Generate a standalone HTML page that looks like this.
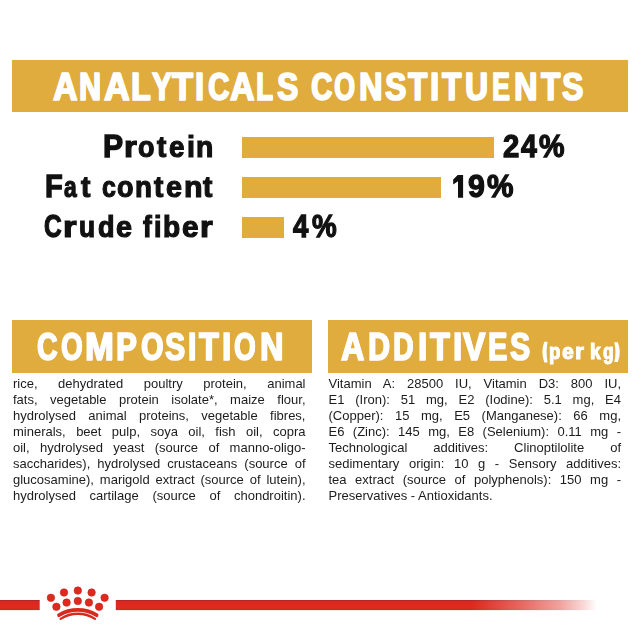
<!DOCTYPE html>
<html><head><meta charset="utf-8">
<style>
html,body{margin:0;padding:0;background:#fff;width:640px;height:640px;overflow:hidden;position:relative;font-family:"Liberation Sans",sans-serif;}
.bar{position:absolute;background:#e0ac3e;}
.t{position:absolute;white-space:pre;line-height:1;transform-origin:0 0;}
.h{color:#fff;font-weight:bold;-webkit-text-stroke:1px #fff;}
.k{color:#111;font-weight:bold;-webkit-text-stroke:0.6px #111;}
.body{position:absolute;font-size:13px;color:#1c1c1c;line-height:16.07px;}
.body div{text-align:justify;text-align-last:justify;white-space:nowrap;height:16.07px;}
.body div.l{text-align-last:left;}
</style></head><body>
<div id="wrap" style="position:absolute;left:0;top:0;width:640px;height:640px;filter:blur(0.3px);">
<!-- top header -->
<div class="bar" style="left:12px;top:60px;width:616px;height:52px;"></div>
<!--H1-->
<span class="t h" style="left:52.95px;top:67px;font-size:39px;transform:scaleX(0.8631);-webkit-text-stroke:1.6px #fff;text-shadow:1.2px 0 0 #fff;">A</span>
<span class="t h" style="left:79.20px;top:67px;font-size:39px;transform:scaleX(0.7735);-webkit-text-stroke:1.6px #fff;text-shadow:1.2px 0 0 #fff;">N</span>
<span class="t h" style="left:103.59px;top:67px;font-size:39px;transform:scaleX(0.9063);-webkit-text-stroke:1.6px #fff;text-shadow:1.2px 0 0 #fff;">A</span>
<span class="t h" style="left:131.01px;top:67px;font-size:39px;transform:scaleX(0.8219);-webkit-text-stroke:1.6px #fff;text-shadow:1.2px 0 0 #fff;">L</span>
<span class="t h" style="left:152.00px;top:67px;font-size:39px;transform:scaleX(0.7486);-webkit-text-stroke:1.6px #fff;text-shadow:1.2px 0 0 #fff;">Y</span>
<span class="t h" style="left:171.57px;top:67px;font-size:39px;transform:scaleX(0.8732);-webkit-text-stroke:1.6px #fff;text-shadow:1.2px 0 0 #fff;">T</span>
<span class="t h" style="left:195.43px;top:67px;font-size:39px;transform:scaleX(0.8138);-webkit-text-stroke:1.6px #fff;text-shadow:1.2px 0 0 #fff;">I</span>
<span class="t h" style="left:207.50px;top:67px;font-size:39px;transform:scaleX(0.7527);-webkit-text-stroke:1.6px #fff;text-shadow:1.2px 0 0 #fff;">C</span>
<span class="t h" style="left:229.85px;top:67px;font-size:39px;transform:scaleX(0.8631);-webkit-text-stroke:1.6px #fff;text-shadow:1.2px 0 0 #fff;">A</span>
<span class="t h" style="left:256.21px;top:67px;font-size:39px;transform:scaleX(0.7123);-webkit-text-stroke:1.6px #fff;text-shadow:1.2px 0 0 #fff;">L</span>
<span class="t h" style="left:276.64px;top:67px;font-size:39px;transform:scaleX(0.8102);-webkit-text-stroke:1.6px #fff;text-shadow:1.2px 0 0 #fff;">S</span>
<span class="t h" style="left:310.65px;top:67px;font-size:39px;transform:scaleX(0.7509);-webkit-text-stroke:1.6px #fff;text-shadow:1.2px 0 0 #fff;">C</span>
<span class="t h" style="left:333.85px;top:67px;font-size:39px;transform:scaleX(0.6890);-webkit-text-stroke:1.6px #fff;text-shadow:1.2px 0 0 #fff;">O</span>
<span class="t h" style="left:358.51px;top:67px;font-size:39px;transform:scaleX(0.8260);-webkit-text-stroke:1.6px #fff;text-shadow:1.2px 0 0 #fff;">N</span>
<span class="t h" style="left:384.74px;top:67px;font-size:39px;transform:scaleX(0.8121);-webkit-text-stroke:1.6px #fff;text-shadow:1.2px 0 0 #fff;">S</span>
<span class="t h" style="left:408.39px;top:67px;font-size:39px;transform:scaleX(0.8014);-webkit-text-stroke:1.6px #fff;text-shadow:1.2px 0 0 #fff;">T</span>
<span class="t h" style="left:430.43px;top:67px;font-size:39px;transform:scaleX(0.8138);-webkit-text-stroke:1.6px #fff;text-shadow:1.2px 0 0 #fff;">I</span>
<span class="t h" style="left:441.54px;top:67px;font-size:39px;transform:scaleX(0.8053);-webkit-text-stroke:1.6px #fff;text-shadow:1.2px 0 0 #fff;">T</span>
<span class="t h" style="left:465.00px;top:67px;font-size:39px;transform:scaleX(0.8098);-webkit-text-stroke:1.6px #fff;text-shadow:1.2px 0 0 #fff;">U</span>
<span class="t h" style="left:491.86px;top:67px;font-size:39px;transform:scaleX(0.6848);-webkit-text-stroke:1.6px #fff;text-shadow:1.2px 0 0 #fff;">E</span>
<span class="t h" style="left:513.51px;top:67px;font-size:39px;transform:scaleX(0.8260);-webkit-text-stroke:1.6px #fff;text-shadow:1.2px 0 0 #fff;">N</span>
<span class="t h" style="left:540.89px;top:67px;font-size:39px;transform:scaleX(0.8014);-webkit-text-stroke:1.6px #fff;text-shadow:1.2px 0 0 #fff;">T</span>
<span class="t h" style="left:562.24px;top:67px;font-size:39px;transform:scaleX(0.8121);-webkit-text-stroke:1.6px #fff;text-shadow:1.2px 0 0 #fff;">S</span>
<!--/H1-->

<!-- labels -->
<!--L1-->
<span class="t k" style="left:102.79px;top:130px;font-size:32px;transform:scaleX(0.9428);-webkit-text-stroke:1.3px #111;">P</span>
<span class="t k" style="left:123.70px;top:130px;font-size:32px;transform-origin:0 27px;transform:scale(1.0305,0.935);-webkit-text-stroke:1.3px #111;">r</span>
<span class="t k" style="left:138.49px;top:130px;font-size:32px;transform-origin:0 27px;transform:scale(0.8448,0.935);-webkit-text-stroke:1.3px #111;">o</span>
<span class="t k" style="left:156.73px;top:130px;font-size:32px;transform-origin:0 27px;transform:scale(0.8770,0.935);-webkit-text-stroke:1.3px #111;">t</span>
<span class="t k" style="left:168.98px;top:130px;font-size:32px;transform-origin:0 27px;transform:scale(0.8655,0.935);-webkit-text-stroke:1.3px #111;">e</span>
<span class="t k" style="left:186.88px;top:130px;font-size:32px;transform-origin:0 27px;transform:scale(0.8962,0.935);-webkit-text-stroke:1.3px #111;">i</span>
<span class="t k" style="left:196.31px;top:130px;font-size:32px;transform-origin:0 27px;transform:scale(0.8834,0.935);-webkit-text-stroke:1.3px #111;">n</span>
<!--/L1-->
<!--L2-->
<span class="t k" style="left:44.75px;top:170px;font-size:32px;transform:scaleX(0.9068);-webkit-text-stroke:1.3px #111;">F</span>
<span class="t k" style="left:64.19px;top:170px;font-size:32px;transform-origin:0 27px;transform:scale(0.7134,0.935);-webkit-text-stroke:1.3px #111;">a</span>
<span class="t k" style="left:81.48px;top:170px;font-size:32px;transform-origin:0 27px;transform:scale(0.8814,0.935);-webkit-text-stroke:1.3px #111;">t</span>
<span class="t k" style="left:101.53px;top:170px;font-size:32px;transform-origin:0 27px;transform:scale(0.7777,0.935);-webkit-text-stroke:1.3px #111;">c</span>
<span class="t k" style="left:116.99px;top:170px;font-size:32px;transform-origin:0 27px;transform:scale(0.8448,0.935);-webkit-text-stroke:1.3px #111;">o</span>
<span class="t k" style="left:135.43px;top:170px;font-size:32px;transform-origin:0 27px;transform:scale(0.8685,0.935);-webkit-text-stroke:1.3px #111;">n</span>
<span class="t k" style="left:154.33px;top:170px;font-size:32px;transform-origin:0 27px;transform:scale(0.8770,0.935);-webkit-text-stroke:1.3px #111;">t</span>
<span class="t k" style="left:166.46px;top:170px;font-size:32px;transform-origin:0 27px;transform:scale(0.8954,0.935);-webkit-text-stroke:1.3px #111;">e</span>
<span class="t k" style="left:184.21px;top:170px;font-size:32px;transform-origin:0 27px;transform:scale(0.9491,0.935);-webkit-text-stroke:1.3px #111;">n</span>
<span class="t k" style="left:203.33px;top:170px;font-size:32px;transform-origin:0 27px;transform:scale(0.8770,0.935);-webkit-text-stroke:1.3px #111;">t</span>
<!--/L2-->
<!--L3-->
<span class="t k" style="left:43.59px;top:210px;font-size:32px;transform:scaleX(0.7650);-webkit-text-stroke:1.3px #111;">C</span>
<span class="t k" style="left:63.10px;top:210px;font-size:32px;transform-origin:0 27px;transform:scale(1.0933,0.935);-webkit-text-stroke:1.3px #111;">r</span>
<span class="t k" style="left:79.20px;top:210px;font-size:32px;transform-origin:0 27px;transform:scale(0.8237,0.935);-webkit-text-stroke:1.3px #111;">u</span>
<span class="t k" style="left:97.94px;top:210px;font-size:32px;transform-origin:0 27px;transform:scale(0.8436,0.935);-webkit-text-stroke:1.3px #111;">d</span>
<span class="t k" style="left:116.06px;top:210px;font-size:32px;transform-origin:0 27px;transform:scale(0.8954,0.935);-webkit-text-stroke:1.3px #111;">e</span>
<span class="t k" style="left:142.58px;top:210px;font-size:32px;transform-origin:0 27px;transform:scale(0.8194,0.935);-webkit-text-stroke:1.3px #111;">f</span>
<span class="t k" style="left:153.96px;top:210px;font-size:32px;transform-origin:0 27px;transform:scale(0.8435,0.935);-webkit-text-stroke:1.3px #111;">i</span>
<span class="t k" style="left:163.32px;top:210px;font-size:32px;transform-origin:0 27px;transform:scale(0.8780,0.935);-webkit-text-stroke:1.3px #111;">b</span>
<span class="t k" style="left:182.44px;top:210px;font-size:32px;transform-origin:0 27px;transform:scale(0.9252,0.935);-webkit-text-stroke:1.3px #111;">e</span>
<span class="t k" style="left:200.01px;top:210px;font-size:32px;transform-origin:0 27px;transform:scale(1.0216,0.935);-webkit-text-stroke:1.3px #111;">r</span>
<!--/L3-->

<div class="bar" style="left:241.5px;top:137px;width:252.5px;height:20.7px;"></div>
<div class="bar" style="left:241.5px;top:177px;width:199.8px;height:20.7px;"></div>
<div class="bar" style="left:241.5px;top:217px;width:42.3px;height:20.7px;"></div>

<!--P1-->
<span class="t k" style="left:502.88px;top:130px;font-size:32px;transform:scaleX(0.9158);-webkit-text-stroke:1.3px #111;">2</span>
<span class="t k" style="left:520.95px;top:130px;font-size:32px;transform:scaleX(0.8893);-webkit-text-stroke:1.3px #111;">4</span>
<span class="t k" style="left:538.67px;top:130px;font-size:32px;transform:scaleX(0.8964);-webkit-text-stroke:1.3px #111;">%</span>
<!--/P1-->
<!--P2-->
<span class="t k" style="left:467.57px;top:170px;font-size:32px;transform:scaleX(0.9464);-webkit-text-stroke:1.3px #111;">9</span>
<span class="t k" style="left:486.56px;top:170px;font-size:32px;transform:scaleX(0.9320);-webkit-text-stroke:1.3px #111;">%</span>
<svg style="position:absolute;left:0;top:0" width="640" height="640" viewBox="0 0 640 640"><path fill="#111" d="M457.7 175 L463.1 175 L463.1 197.8 L458 197.8 L458 181.2 L453.2 184.4 L453.2 179.6 Z"/></svg>
<!--/P2-->
<!--P3-->
<span class="t k" style="left:292.64px;top:210px;font-size:32px;transform:scaleX(0.8622);-webkit-text-stroke:1.3px #111;">4</span>
<span class="t k" style="left:311.57px;top:210px;font-size:32px;transform:scaleX(0.8679);-webkit-text-stroke:1.3px #111;">%</span>
<!--/P3-->

<!-- section headers -->
<div class="bar" style="left:12px;top:320px;width:300px;height:52.6px;"></div>
<div class="bar" style="left:328px;top:320px;width:300px;height:52.6px;"></div>
<!--H2-->
<span class="t h" style="left:36.92px;top:327px;font-size:39px;transform:scaleX(0.7280);-webkit-text-stroke:1.6px #fff;text-shadow:1.2px 0 0 #fff;">C</span>
<span class="t h" style="left:60.68px;top:327px;font-size:39px;transform:scaleX(0.7107);-webkit-text-stroke:1.6px #fff;text-shadow:1.2px 0 0 #fff;">O</span>
<span class="t h" style="left:84.66px;top:327px;font-size:39px;transform:scaleX(0.8813);-webkit-text-stroke:1.6px #fff;text-shadow:1.2px 0 0 #fff;">M</span>
<span class="t h" style="left:116.07px;top:327px;font-size:39px;transform:scaleX(0.7921);-webkit-text-stroke:1.6px #fff;text-shadow:1.2px 0 0 #fff;">P</span>
<span class="t h" style="left:140.67px;top:327px;font-size:39px;transform:scaleX(0.7308);-webkit-text-stroke:1.6px #fff;text-shadow:1.2px 0 0 #fff;">O</span>
<span class="t h" style="left:164.75px;top:327px;font-size:39px;transform:scaleX(0.7644);-webkit-text-stroke:1.6px #fff;text-shadow:1.2px 0 0 #fff;">S</span>
<span class="t h" style="left:188.07px;top:327px;font-size:39px;transform:scaleX(0.7365);-webkit-text-stroke:1.6px #fff;text-shadow:1.2px 0 0 #fff;">I</span>
<span class="t h" style="left:199.05px;top:327px;font-size:39px;transform:scaleX(0.8247);-webkit-text-stroke:1.6px #fff;text-shadow:1.2px 0 0 #fff;">T</span>
<span class="t h" style="left:221.62px;top:327px;font-size:39px;transform:scaleX(0.8197);-webkit-text-stroke:1.6px #fff;text-shadow:1.2px 0 0 #fff;">I</span>
<span class="t h" style="left:234.43px;top:327px;font-size:39px;transform:scaleX(0.7107);-webkit-text-stroke:1.6px #fff;text-shadow:1.2px 0 0 #fff;">O</span>
<span class="t h" style="left:259.76px;top:327px;font-size:39px;transform:scaleX(0.8260);-webkit-text-stroke:1.6px #fff;text-shadow:1.2px 0 0 #fff;">N</span>
<!--/H2-->
<!--H3-->
<span class="t h" style="left:341.46px;top:327px;font-size:39px;transform:scaleX(0.8217);-webkit-text-stroke:1.6px #fff;text-shadow:1.2px 0 0 #fff;">A</span>
<span class="t h" style="left:367.70px;top:327px;font-size:39px;transform:scaleX(0.7729);-webkit-text-stroke:1.6px #fff;text-shadow:1.2px 0 0 #fff;">D</span>
<span class="t h" style="left:392.79px;top:327px;font-size:39px;transform:scaleX(0.7261);-webkit-text-stroke:1.6px #fff;text-shadow:1.2px 0 0 #fff;">D</span>
<span class="t h" style="left:417.62px;top:327px;font-size:39px;transform:scaleX(0.8197);-webkit-text-stroke:1.6px #fff;text-shadow:1.2px 0 0 #fff;">I</span>
<span class="t h" style="left:430.05px;top:327px;font-size:39px;transform:scaleX(0.8247);-webkit-text-stroke:1.6px #fff;text-shadow:1.2px 0 0 #fff;">T</span>
<span class="t h" style="left:452.62px;top:327px;font-size:39px;transform:scaleX(0.8197);-webkit-text-stroke:1.6px #fff;text-shadow:1.2px 0 0 #fff;">I</span>
<span class="t h" style="left:462.95px;top:327px;font-size:39px;transform:scaleX(0.8522);-webkit-text-stroke:1.6px #fff;text-shadow:1.2px 0 0 #fff;">V</span>
<span class="t h" style="left:487.77px;top:327px;font-size:39px;transform:scaleX(0.7354);-webkit-text-stroke:1.6px #fff;text-shadow:1.2px 0 0 #fff;">E</span>
<span class="t h" style="left:509.50px;top:327px;font-size:39px;transform:scaleX(0.7644);-webkit-text-stroke:1.6px #fff;text-shadow:1.2px 0 0 #fff;">S</span>
<!--/H3-->
<!--H4-->
<span class="t h" style="left:549.20px;top:341px;font-size:22px;transform:scaleX(0.8422);text-shadow:0.5px 0 0 #fff;">p</span>
<span class="t h" style="left:561.86px;top:341px;font-size:22px;transform:scaleX(0.9527);text-shadow:0.5px 0 0 #fff;">e</span>
<span class="t h" style="left:574.61px;top:341px;font-size:22px;transform:scaleX(1.0389);text-shadow:0.5px 0 0 #fff;">r</span>
<span class="t h" style="left:589.80px;top:341px;font-size:22px;transform:scaleX(0.8674);text-shadow:0.5px 0 0 #fff;">k</span>
<span class="t h" style="left:602.59px;top:341px;font-size:22px;transform:scaleX(0.7720);text-shadow:0.5px 0 0 #fff;">g</span>
<svg style="position:absolute;left:0;top:0" width="640" height="640" viewBox="0 0 640 640"><g fill="#fff"><path d="M544.3 341.7 L547.6 341.7 Q545.6 352 547.6 362.5 L544.3 362.5 Q540.5 352 544.3 341.7 Z"/><path d="M614.3 342.2 L617.8 342.2 Q621.8 352.1 617.8 362 L614.3 362 Q616.7 352.1 614.3 342.2 Z"/></g></svg>
<!--/H4-->

<div class="body" style="left:13px;top:376px;width:292.5px;">
<div>rice, dehydrated poultry protein, animal</div>
<div>fats, vegetable protein isolate*, maize flour,</div>
<div>hydrolysed animal proteins, vegetable fibres,</div>
<div>minerals, beet pulp, soya oil, fish oil, copra</div>
<div>oil, hydrolysed yeast (source of manno-oligo-</div>
<div>saccharides), hydrolysed crustaceans (source of</div>
<div>glucosamine), marigold extract (source of lutein),</div>
<div>hydrolysed cartilage (source of chondroitin).</div>
</div>

<div class="body" style="left:328.5px;top:376px;width:292.5px;">
<div>Vitamin A: 28500 IU, Vitamin D3: 800 IU,</div>
<div>E1 (Iron): 51 mg, E2 (Iodine): 5.1 mg, E4</div>
<div>(Copper): 15 mg, E5 (Manganese): 66 mg,</div>
<div>E6 (Zinc): 145 mg, E8 (Selenium): 0.11 mg -</div>
<div>Technological additives: Clinoptilolite of</div>
<div>sedimentary origin: 10 g - Sensory additives:</div>
<div>tea extract (source of polyphenols): 150 mg -</div>
<div class="l">Preservatives - Antioxidants.</div>
</div>

<!-- bottom red line + crown -->
<svg style="position:absolute;left:0;top:0" width="640" height="640" viewBox="0 0 640 640">
<defs>
<linearGradient id="fade" x1="115.8" x2="597" y1="0" y2="0" gradientUnits="userSpaceOnUse">
<stop offset="0" stop-color="#fff"/><stop offset="0.74" stop-color="#fff"/>
<stop offset="0.79" stop-color="#fff" stop-opacity="0.86"/>
<stop offset="0.841" stop-color="#fff" stop-opacity="0.71"/>
<stop offset="0.922" stop-color="#fff" stop-opacity="0.44"/>
<stop offset="0.972" stop-color="#fff" stop-opacity="0.18"/>
<stop offset="1" stop-color="#fff" stop-opacity="0"/></linearGradient>
<mask id="m" maskUnits="userSpaceOnUse" x="0" y="590" width="640" height="30"><rect x="0" y="590" width="640" height="30" fill="url(#fade)"/></mask>
<linearGradient id="vg" x1="0" x2="0" y1="600" y2="610.3" gradientUnits="userSpaceOnUse">
<stop offset="0" stop-color="#b82424"/><stop offset="0.1" stop-color="#bf2626"/><stop offset="0.17" stop-color="#d42d25"/><stop offset="0.3" stop-color="#de281e"/>
<stop offset="0.8" stop-color="#df2a20"/><stop offset="0.88" stop-color="#bd2a22"/><stop offset="0.97" stop-color="#c43a32"/><stop offset="1" stop-color="#e8a0a0"/></linearGradient>
</defs>
<rect x="0" y="600" width="39.7" height="10.2" fill="url(#vg)"/>
<g mask="url(#m)"><rect x="115.8" y="600" width="481.2" height="10.2" fill="url(#vg)"/></g>
<g fill="#dc2a1f" stroke="#c42420" stroke-width="0.6">
<circle cx="50.9" cy="597.8" r="3.75"/>
<circle cx="104.6" cy="597.8" r="3.75"/>
<circle cx="64.0" cy="592.5" r="3.75"/>
<circle cx="77.8" cy="590.6" r="3.75"/>
<circle cx="91.6" cy="592.5" r="3.75"/>
<circle cx="66.6" cy="602.6" r="3.75"/>
<circle cx="77.8" cy="601.0" r="3.75"/>
<circle cx="88.9" cy="602.6" r="3.75"/>
<circle cx="56.4" cy="606.8" r="3.75"/>
<circle cx="99.1" cy="606.8" r="3.75"/>
</g>
<g fill="none" stroke="#d8291f" stroke-linecap="round">
<path d="M59 615.2 A36.4 36.4 0 0 1 96.6 615.2" stroke-width="3.7"/>
<path d="M60.6 618.9 A31.4 31.4 0 0 1 95 618.9" stroke-width="2.3"/>
</g>
</svg>
</div>
</body></html>
